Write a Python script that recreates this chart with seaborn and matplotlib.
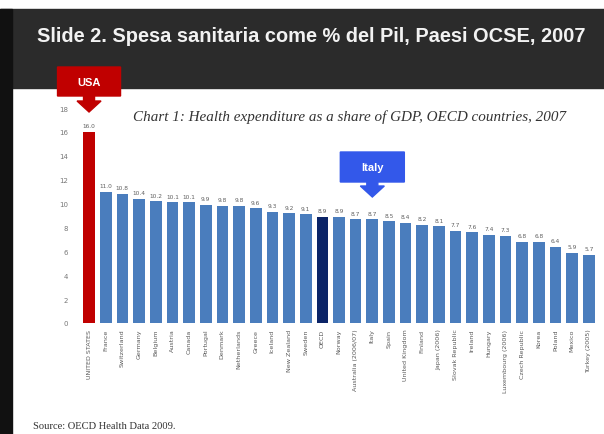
import matplotlib
matplotlib.use("Agg")
import matplotlib.pyplot as plt
from matplotlib.patches import Rectangle, Polygon
import seaborn as sns

countries = [
    "UNITED STATES", "France", "Switzerland", "Germany", "Belgium", "Austria",
    "Canada", "Portugal", "Denmark", "Netherlands", "Greece", "Iceland",
    "New Zealand", "Sweden", "OECD", "Norway", "Australia (2006/07)", "Italy",
    "Spain", "United Kingdom", "Finland", "Japan (2006)", "Slovak Republic",
    "Ireland", "Hungary", "Luxembourg (2006)", "Czech Republic", "Korea",
    "Poland", "Mexico", "Turkey (2005)",
]
spending = [
    16.0, 11.0, 10.8, 10.4, 10.2, 10.1,
    10.1, 9.9, 9.8, 9.8, 9.6, 9.3,
    9.2, 9.1, 8.9, 8.9, 8.7, 8.7,
    8.5, 8.4, 8.2, 8.1, 7.7,
    7.6, 7.4, 7.3, 6.8, 6.8,
    6.4, 5.9, 5.7,
]
y_ticks = [0, 2, 4, 6, 8, 10, 12, 14, 16, 18]

BLUE = "#4a7dbd"
RED = "#c00000"
NAVY = "#0b2467"
colors = [RED if c == "UNITED STATES" else NAVY if c == "OECD" else BLUE
          for c in countries]

W, H = 604, 435
fig = plt.figure(figsize=(W / 100, H / 100), dpi=100)
fig.patch.set_facecolor("white")


def fx(px):
    return px / W


def fy(py):
    return 1 - py / H


# slide header band and left edge
fig.patches.append(Rectangle((fx(0), fy(89)), 1, fy(10) - fy(89),
                             transform=fig.transFigure, color="#2b2b2b", zorder=0))
fig.patches.append(Rectangle((0, 0), fx(12), fy(10),
                             transform=fig.transFigure, color="#111111", zorder=1))
fig.text(fx(311), fy(37), "Slide 2. Spesa sanitaria come % del Pil, Paesi OCSE, 2007",
         color="#f2f2f2", fontsize=14.4, fontweight="bold", family="Liberation Sans",
         ha="center", va="center")

left_px, right_px = 80.7, 597.3
top_px, bottom_px = 109, 324
ax = fig.add_axes([fx(left_px), fy(bottom_px), fx(right_px - left_px),
                   (bottom_px - top_px) / H])

sns.barplot(x=countries, y=spending, hue=countries, palette=colors,
            legend=False, width=0.7, ax=ax, saturation=1)
ax.set_xlim(-0.5, len(countries) - 0.5)
ax.set_ylim(0, 18)
ax.set_yticks(y_ticks)
ax.set_yticklabels([str(t) for t in y_ticks], fontsize=5, color="#777777")
ax.tick_params(axis="y", length=0, pad=9)
ax.tick_params(axis="x", length=0, pad=4)
ax.set_xticks(range(len(countries)))
ax.set_xticklabels(countries, rotation=90, fontsize=4.6, color="#5a5a5a")
for s in ax.spines.values():
    s.set_visible(False)
ax.set_facecolor("none")

for i, v in enumerate(spending):
    ax.text(i, v + 0.3, f"{v:.1f}", ha="center", va="bottom",
            fontsize=4.2, color="#606060")

fig.text(fx(350), fy(117),
         "Chart 1: Health expenditure as a share of GDP, OECD countries, 2007",
         family="Liberation Serif", style="italic", fontsize=10.9,
         color="#333333", ha="center", va="center")

fig.text(fx(33), fy(427), "Source: OECD Health Data 2009.",
         family="Liberation Serif", fontsize=7.6, color="#333333",
         ha="left", va="center")


def callout(index, box_top, box_bottom, half_w, neck_bottom, tip, color, label):
    # center x of the bar in pixel space
    disp = ax.transData.transform((index, 0))
    cx = fig.transFigure.inverted().transform(disp)[0] * W
    neck_hw, head_hw = 5.5, 12
    pts = [
        (cx - half_w, box_top), (cx + half_w, box_top),
        (cx + half_w, box_bottom), (cx + neck_hw, box_bottom),
        (cx + neck_hw, neck_bottom), (cx + head_hw, neck_bottom),
        (cx, tip), (cx - head_hw, neck_bottom),
        (cx - neck_hw, neck_bottom), (cx - neck_hw, box_bottom),
        (cx - half_w, box_bottom),
    ]
    poly = Polygon([(fx(x), fy(y)) for x, y in pts], closed=True,
                   transform=fig.transFigure, facecolor=color,
                   edgecolor=color, zorder=5)
    fig.patches.append(poly)
    fig.text(fx(cx), fy((box_top + box_bottom) / 2), label, color="white",
             fontsize=8, fontweight="bold", family="Liberation Sans",
             ha="center", va="center", zorder=6)


callout(countries.index("UNITED STATES"), 68, 97, 31.5, 102, 113, RED, "USA")
callout(countries.index("Italy"), 153, 183, 32, 187, 198, "#3358ea", "Italy")

fig.savefig("out.png", dpi=100)
